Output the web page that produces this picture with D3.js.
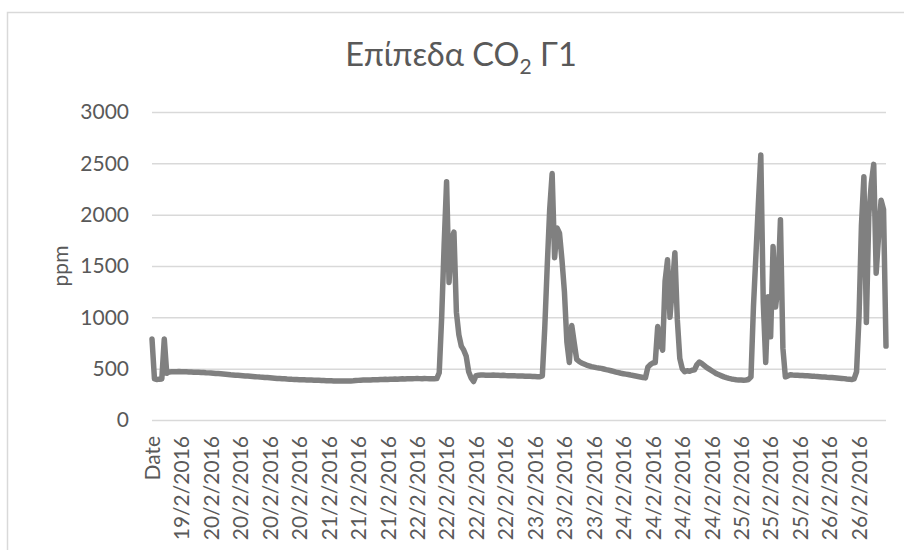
<!DOCTYPE html>
<html>
<head>
<meta charset="utf-8">
<script src="https://cdn.jsdelivr.net/npm/d3@7"></script>
<style>
    body { margin: 0; background: #fff; }
    svg text { font-family: Lato, "Noto Sans", sans-serif; fill: #595959; }
</style>
</head>
<body>
<div id="chart_container"></div>
<script>
const CANVAS = {
    w: 904,
    h: 550
};

const PLOT = {
    left: 152,
    right: 886,
    top: 112,
    bottom: 420
};

// --- DATOS ---
const titleText = "Επίπεδα CO";
const titleSub = "2";
const titleTail = " Γ1";
const yAxisTitle = "ppm";

const yTicks = [0, 500, 1000, 1500, 2000, 2500, 3000];

// one label every 12 readings
const labelStep = 12;
const xLabels = [
    "Date", "19/2/2016",
    "20/2/2016", "20/2/2016", "20/2/2016", "20/2/2016",
    "21/2/2016", "21/2/2016", "21/2/2016",
    "22/2/2016", "22/2/2016", "22/2/2016", "22/2/2016",
    "23/2/2016", "23/2/2016", "23/2/2016",
    "24/2/2016", "24/2/2016", "24/2/2016", "24/2/2016",
    "25/2/2016", "25/2/2016", "25/2/2016",
    "26/2/2016", "26/2/2016"
];

// CO2 readings (ppm)
const co2 = [
    790, 400, 395, 398, 400, 790, 455, 468, 470, 471, 470, 472,
    471, 470, 469, 468, 468, 466, 465, 464, 463, 462, 460, 459,
    458, 456, 454, 452, 450, 448, 446, 444, 441, 439, 437, 435,
    433, 431, 429, 428, 426, 424, 422, 420, 418, 417, 415, 413,
    411, 409, 407, 405, 404, 402, 401, 399, 398, 396, 395, 394,
    393, 392, 391, 390, 390, 389, 388, 387, 386, 385, 384, 383,
    383, 382, 381, 381, 380, 380, 379, 379, 380, 381, 382, 384,
    386, 388, 389, 390, 389, 390, 392, 393, 392, 394, 395, 396,
    395, 397, 398, 399, 398, 400, 401, 400, 402, 403, 402, 403,
    404, 403, 402, 404, 403, 402, 401, 402, 403, 460, 1000, 1700,
    2320, 1340, 1750, 1830, 1050, 830, 720, 680, 620, 470, 410, 375,
    432, 436, 438, 438, 437, 436, 437, 438, 436, 435, 434, 435,
    433, 432, 431, 432, 430, 429, 428, 429, 427, 426, 425, 424,
    423, 422, 421, 430, 900, 1500, 2050, 2400, 1580, 1870, 1820, 1560,
    1250, 760, 560, 920, 750, 590, 570, 555, 545, 535, 528, 520,
    515, 510, 506, 503, 497, 491, 486, 480, 474, 467, 461, 455,
    451, 447, 443, 438, 434, 429, 424, 419, 414, 410, 515, 540,
    555, 560, 910, 750, 680, 1350, 1560, 1000, 1300, 1630, 975, 600,
    500, 470, 480, 475, 485, 490, 540, 565, 550, 530, 510, 495,
    480, 465, 450, 440, 430, 420, 412, 405, 400, 396, 392, 390,
    390, 388, 390, 395, 420, 1100, 1600, 2100, 2580, 1150, 560, 1200,
    810, 1690, 1100, 1300, 1950, 700, 420, 430, 440, 438, 437, 436,
    434, 433, 431, 430, 428, 426, 425, 423, 421, 419, 418, 416,
    415, 413, 411, 409, 407, 405, 403, 400, 398, 394, 400, 470,
    1000, 1900, 2370, 950, 2000, 2300, 2490, 1430, 1800, 2140, 2050, 720
];

// --- ESCALAS ---
const xScale = d3.scalePoint()
    .domain(d3.range(co2.length))
    .range([PLOT.left, PLOT.right]);

const yScale = d3.scaleLinear()
    .domain([0, 3000])
    .range([PLOT.bottom, PLOT.top]);

// --- DIBUJO ---
const svg = d3
    .select("#chart_container")
    .append("svg")
    .attr("width", CANVAS.w)
    .attr("height", CANVAS.h);

// chart frame, runs past the right and bottom edge like the original
svg.append("rect")
    .attr("x", 7.5)
    .attr("y", 12.5)
    .attr("width", 920)
    .attr("height", 560)
    .attr("fill", "white")
    .attr("stroke", "#d9d9d9")
    .attr("stroke-width", 1.5);

// title
const title = svg.append("text")
    .attr("x", 461)
    .attr("y", 66)
    .attr("text-anchor", "middle")
    .style("font-size", "32.5px");
title.append("tspan").text(titleText);
title.append("tspan")
    .attr("dy", 8)
    .style("font-size", "21px")
    .text(titleSub);
title.append("tspan")
    .attr("dy", -8)
    .text(titleTail);

// gridlines + y labels
const yAxis = d3.axisLeft(yScale)
    .tickValues(yTicks)
    .tickSize(-(PLOT.right - PLOT.left))
    .tickPadding(23)
    .tickFormat(d3.format("d"));

svg.append("g")
    .attr("transform", `translate(${PLOT.left},0)`)
    .call(yAxis)
    .call(g => g.select(".domain").remove())
    .call(g => g.selectAll(".tick line")
        .attr("stroke", "#d9d9d9")
        .attr("stroke-width", 1.5))
    .call(g => g.selectAll(".tick text")
        .style("font-size", "21px"));

// x labels, rotated
const xAxis = d3.axisBottom(xScale)
    .tickValues(d3.range(0, co2.length, labelStep))
    .tickSize(0)
    .tickFormat(d => xLabels[d / labelStep]);

svg.append("g")
    .attr("transform", `translate(0,${PLOT.bottom})`)
    .call(xAxis)
    .call(g => g.select(".domain").remove())
    .call(g => g.selectAll(".tick text")
        .style("font-size", "21px")
        .attr("text-anchor", "end")
        .attr("transform", "rotate(-90)")
        .attr("x", -16)
        .attr("y", 0)
        .attr("dy", "0.35em"));

// y axis title
svg.append("text")
    .attr("transform", `translate(68,${(PLOT.top + PLOT.bottom) / 2}) rotate(-90)`)
    .attr("text-anchor", "middle")
    .style("font-size", "21px")
    .text(yAxisTitle);

// the series
const line = d3.line()
    .x((d, i) => xScale(i))
    .y(d => yScale(d));

svg.append("path")
    .datum(co2)
    .attr("d", line)
    .attr("fill", "none")
    .attr("stroke", "#808080")
    .attr("stroke-width", 5.5)
    .attr("stroke-linejoin", "round")
    .attr("stroke-linecap", "round");
</script>
</body>
</html>
